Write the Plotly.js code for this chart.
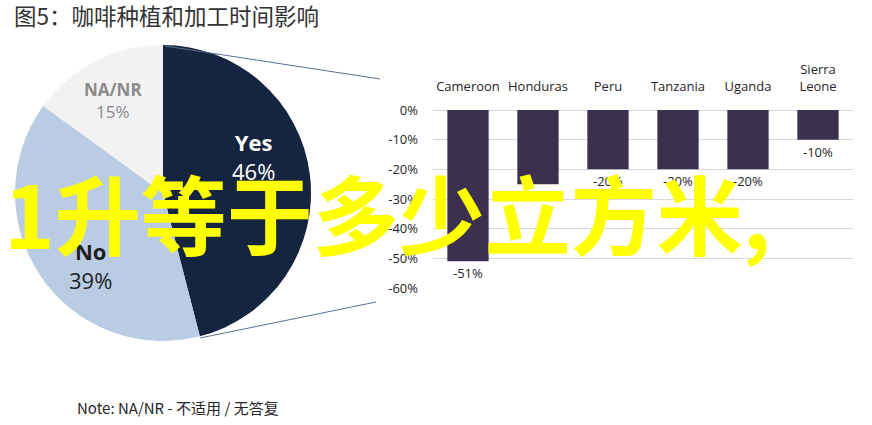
<!DOCTYPE html>
<html>
<head>
<meta charset="utf-8">
<script src="https://cdn.plot.ly/plotly-3.0.1.min.js"></script>
<style>
  html, body { margin: 0; padding: 0; background: #fff; }
  #myDiv { width: 872px; height: 425px; }
</style>
</head>
<body>
<div id="myDiv"></div>
<script>
const graphDiv = document.getElementById('myDiv')

// pie: answers
const pieLabels = ['Yes', 'No', 'NA/NR']
const pieValues = [46, 39, 15]
const pieColors = ['#15243f', '#b9cce4', '#f2f2f2']
const pieTextColors = ['#ffffff', '#1e1e1e', '#8a8a8a']

// bar: change by country (%)
const countries = ['Cameroon', 'Honduras', 'Peru', 'Tanzania', 'Uganda', 'Sierra<br>Leone']
const changes = [-51, -25, -20, -20, -20, -10]
const yTicks = [0, -10, -20, -30, -40, -50, -60]
const yTickText = ['0%', '-10%', '-20%', '-30%', '-40%', '-50%', '-60%']

const W = 872, H = 425
const px = x => x / W
const py = y => 1 - y / H

// where the pie labels sit (pixels) and how big
const pieLabelPos = [[253, 156], [90, 265], [113, 100]]
const pieLabelSize = [22, 22, 17]
const total = pieValues.reduce((a, b) => a + b, 0)

const pie = {
    type: 'pie',
    labels: pieLabels,
    values: pieValues,
    sort: false,
    direction: 'clockwise',
    rotation: 0,
    marker: {colors: pieColors, line: {width: 0}},
    textinfo: 'none',
    hoverinfo: 'none',
    showlegend: false,
    domain: {x: [px(15), px(311)], y: [py(341), py(45)]},
}

const bars = {
    type: 'bar',
    x: countries,
    y: changes,
    marker: {color: '#3b3050'},
    text: changes.map(v => v + '%'),
    textposition: 'outside',
    cliponaxis: false,
    textfont: {family: 'Open Sans', size: 13, color: '#262626'},
    hoverinfo: 'none',
    showlegend: false,
}

const pieNotes = pieLabels.map((lab, i) => ({
    text: '<b>' + lab + '</b><br>' + Math.round(pieValues[i] / total * 100) + '%',
    xref: 'paper', yref: 'paper',
    x: px(pieLabelPos[i][0]), y: py(pieLabelPos[i][1]),
    xanchor: 'center', yanchor: 'middle', showarrow: false,
    font: {family: 'Open Sans', size: pieLabelSize[i], color: pieTextColors[i]},
}))

const layout = {
    width: W,
    height: H,
    margin: {l: 0, r: 0, t: 0, b: 0, pad: 0},
    paper_bgcolor: '#ffffff',
    plot_bgcolor: '#ffffff',
    font: {family: 'Open Sans', color: '#262626'},
    title: {
        text: '图5：咖啡种植和加工时间影响',
        font: {family: 'Noto Sans CJK SC', size: 22.5, color: '#333333'},
        x: px(14),
        xanchor: 'left',
        y: py(17),
        yanchor: 'middle',
    },
    bargap: 0.41,
    xaxis: {
        domain: [px(433), px(853)],
        side: 'top',
        showgrid: false,
        showline: false,
        ticks: '',
        tickfont: {size: 13, color: '#262626'},
        ticklabelstandoff: 15,
    },
    yaxis: {
        domain: [py(288), py(110)],
        range: [-60, 0],
        tickvals: yTicks,
        ticktext: yTickText,
        gridcolor: '#d9d9d9',
        zerolinecolor: '#d9d9d9',
        showline: false,
        ticks: '',
        tickfont: {size: 13, color: '#262626'},
        ticklabelstandoff: 14,
    },
    shapes: [
        {type: 'line', xref: 'paper', yref: 'paper', x0: px(165), y0: py(46), x1: px(380), y1: py(79),
         line: {color: '#5a6f8c', width: 1}},
        {type: 'line', xref: 'paper', yref: 'paper', x0: px(200), y0: py(338), x1: px(376), y1: py(302),
         line: {color: '#5a6f8c', width: 1}},
    ],
    annotations: pieNotes.concat([
        {text: 'Note: NA/NR - 不适用 / 无答复', xref: 'paper', yref: 'paper', x: px(75), y: py(407),
         xanchor: 'left', yanchor: 'middle', showarrow: false,
         font: {family: 'Noto Sans CJK SC', size: 15, color: '#262626'}},
        {text: '<b>1升等于多少立方米,</b>', xref: 'paper', yref: 'paper', x: px(2), y: py(212),
         xanchor: 'left', yanchor: 'middle', showarrow: false,
         font: {family: 'Noto Sans CJK SC', size: 86, color: '#ffff00'}},
    ]),
}

Plotly.newPlot(graphDiv, [pie, bars], layout, {displayModeBar: false, staticPlot: true})
</script>
</body>
</html>
